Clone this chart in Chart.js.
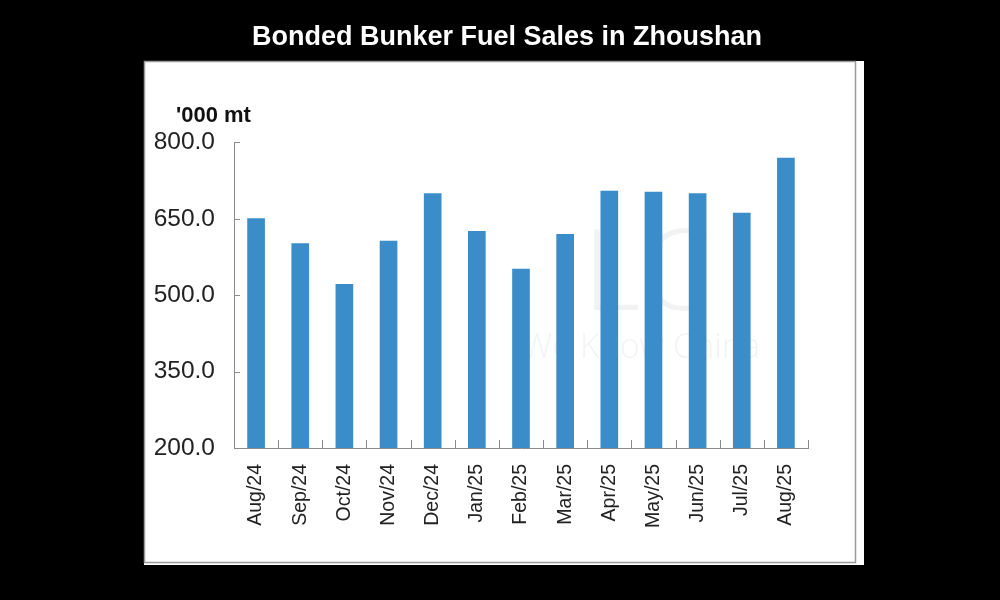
<!DOCTYPE html>
<html>
<head>
<meta charset="utf-8">
<script src="https://cdn.jsdelivr.net/npm/chart.js@4/dist/chart.umd.min.js"></script>
<style>
  html, body { margin: 0; padding: 0; background: #000; }
  #wrap { width: 1000px; height: 600px; }
</style>
</head>
<body>
<div id="wrap"><canvas id="c" width="1000" height="600"></canvas></div>
<script>
const months = ["Aug/24","Sep/24","Oct/24","Nov/24","Dec/24","Jan/25","Feb/25","Mar/25","Apr/25","May/25","Jun/25","Jul/25","Aug/25"];
const sales = [651, 602, 522, 607, 700, 626, 552, 620, 705, 703, 700, 662, 770];
const yTicks = [200, 350, 500, 650, 800];
const chartTitle = "Bonded Bunker Fuel Sales in Zhoushan";
const unitLabel = "'000 mt";
const watermarkBig = "LC";
const watermarkSmall = "We Know China";

const backdrop = {
  id: 'backdrop',
  beforeDraw(chart) {
    const ctx = chart.ctx;
    ctx.save();
    ctx.fillStyle = '#000';
    ctx.fillRect(0, 0, chart.width, chart.height);
    ctx.fillStyle = '#fff';
    ctx.fillRect(144, 61, 720, 504);
    ctx.strokeStyle = '#9a9a9a';
    ctx.lineWidth = 1.5;
    ctx.beginPath();
    ctx.moveTo(144.5, 61.5); ctx.lineTo(855.5, 61.5);
    ctx.lineTo(855.5, 562.5); ctx.lineTo(144.5, 562.5); ctx.closePath();
    ctx.stroke();
    ctx.fillStyle = 'rgba(0,0,0,0.05)';
    ctx.font = '300 112px "Open Sans"';
    ctx.textBaseline = 'alphabetic';
    ctx.textAlign = 'left';
    ctx.fillText(watermarkBig, 583, 310);
    ctx.font = '300 34px "Open Sans"';
    ctx.fillText(watermarkSmall, 522, 358);
    ctx.restore();
  },
  afterDatasetsDraw(chart) {
    const ctx = chart.ctx;
    const x = chart.scales.x, y = chart.scales.y;
    const area = chart.chartArea;
    ctx.save();
    ctx.strokeStyle = '#8a8a8a';
    ctx.lineWidth = 1;
    yTicks.forEach(v => {
      const py = Math.round(y.getPixelForValue(v)) + 0.5;
      ctx.beginPath(); ctx.moveTo(area.left, py); ctx.lineTo(area.left + 6, py); ctx.stroke();
    });
    const n = months.length;
    for (let i = 0; i <= n; i++) {
      let px;
      if (i === 0) px = area.left;
      else if (i === n) px = area.right;
      else px = (x.getPixelForValue(i - 1) + x.getPixelForValue(i)) / 2;
      px = Math.round(px) + 0.5;
      ctx.beginPath(); ctx.moveTo(px, area.bottom); ctx.lineTo(px, area.bottom - 8); ctx.stroke();
    }
    ctx.fillStyle = '#111';
    ctx.font = 'bold 22px "Liberation Sans"';
    ctx.textAlign = 'left';
    ctx.textBaseline = 'middle';
    ctx.fillText(unitLabel, area.left - 58, 116);
    ctx.restore();
  }
};

new Chart(document.getElementById('c'), {
  type: 'bar',
  data: {
    labels: months,
    datasets: [{
      data: sales,
      backgroundColor: '#3A8DC8',
      borderWidth: 0,
      barPercentage: 0.4,
      categoryPercentage: 1.0,
      yAxisID: 'y'
    }]
  },
  options: {
    responsive: false,
    animation: false,
    devicePixelRatio: 1,
    layout: { padding: { left: 14, right: 0, top: 0, bottom: 42 } },
    plugins: {
      legend: { display: false },
      tooltip: { enabled: false },
      title: {
        display: true,
        text: chartTitle,
        color: '#ffffff',
        font: { family: '"Liberation Sans", Arial, sans-serif', size: 27, weight: 'bold' },
        padding: { top: 21, bottom: 89 }
      }
    },
    scales: {
      x: {
        offset: true,
        grid: { display: false, drawTicks: false, offset: true },
        border: { display: true, color: '#8a8a8a', width: 1 },
        ticks: {
          color: '#222',
          font: { family: '"Liberation Sans", Arial, sans-serif', size: 19.5 },
          minRotation: 90, maxRotation: 90,
          padding: 16,
          autoSkip: false
        },
        afterFit(s) { s.height = 110; }
      },
      y: {
        position: 'left',
        min: 200, max: 800,
        grid: { display: false, drawTicks: false },
        border: { display: true, color: '#8a8a8a', width: 1 },
        afterBuildTicks(s) { s.ticks = yTicks.map(v => ({ value: v })); },
        ticks: {
          color: '#222',
          font: { family: '"Liberation Sans", Arial, sans-serif', size: 24.5 },
          padding: 19,
          callback: v => Number(v).toFixed(1)
        },
        afterFit(s) { s.width = 220; }
      },
      yRight: {
        position: 'right',
        display: true,
        min: 0, max: 1,
        grid: { display: false, drawTicks: false },
        border: { display: false },
        ticks: { display: false },
        afterFit(s) { s.width = 192; }
      }
    }
  },
  plugins: [backdrop]
});
</script>
</body>
</html>
